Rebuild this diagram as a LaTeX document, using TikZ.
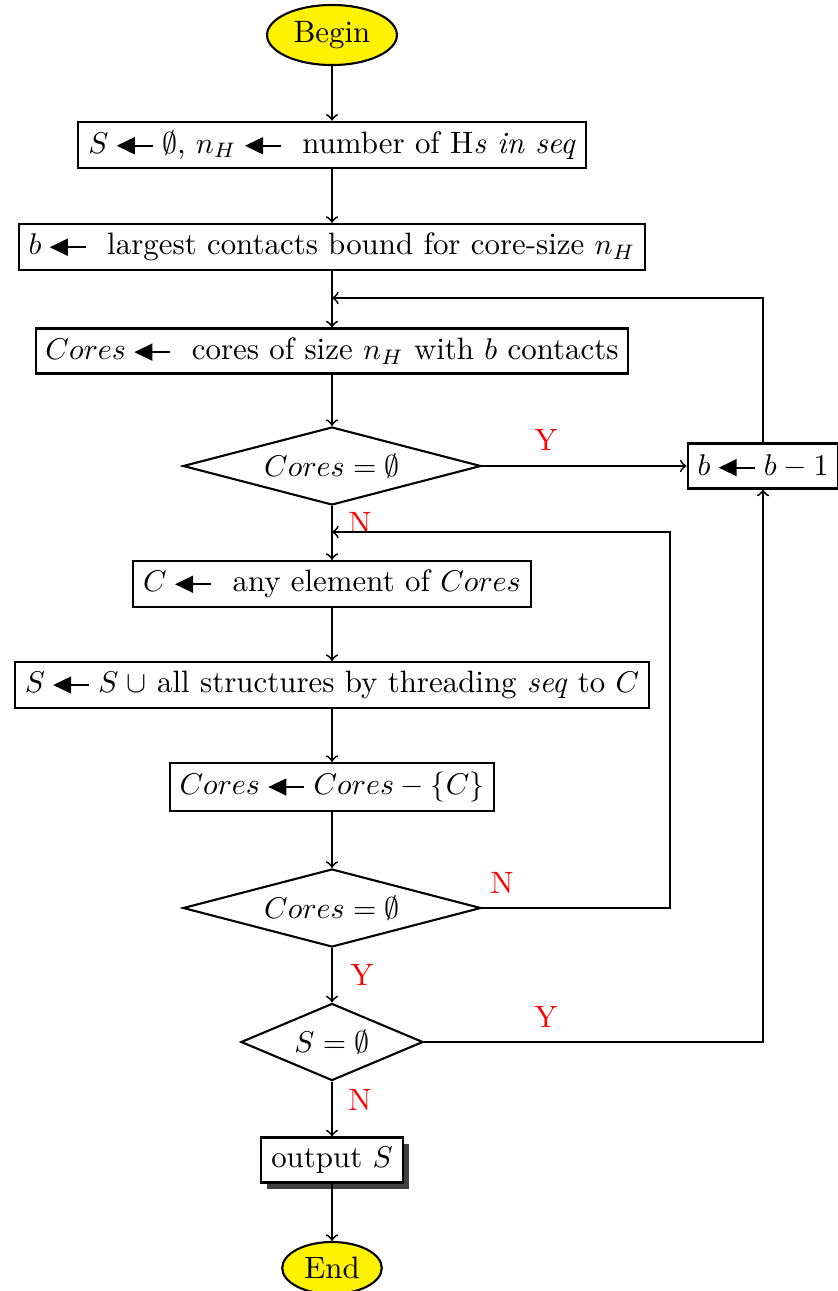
\documentclass[tikz,border=0pt]{standalone}
\usetikzlibrary{shapes.geometric,shadows}

% filled left arrow used for assignment
\newcommand\asgn{\mathrel{\tikz[baseline={(0,-2.5pt)}]{%
  \fill[black] (0,0) -- (6pt,2.9pt) -- (6pt,-2.9pt) -- cycle;
  \draw[black,line width=0.6pt] (5pt,0) -- (12pt,0);}}}

\begin{document}
\begin{tikzpicture}[x=0.3333pt,y=-0.3333pt,
  every node/.style={font=\fontsize{10.3}{12.4}\selectfont},
  term/.style={ellipse,draw=black,fill=yellow,line width=0.7pt,inner sep=2.5pt},
  proc/.style={rectangle,draw=black,line width=0.7pt,minimum height=15pt,inner xsep=3.3pt,inner ysep=3pt},
  test/.style={diamond,draw=black,line width=0.7pt,inner sep=0pt,aspect=3.8,minimum width=99.3pt,minimum height=26pt},
  flow/.style={line width=0.6pt,->},
  lbl/.style={text=red}]
\useasboundingbox (0,0) rectangle (837,1291);

% nodes
\node[term] (begin) at (332,35) {Begin};
\node[proc] (init) at (332,145) {$S \asgn \emptyset$, $n_H \asgn$~ number of H\textit{s in seq}};
\node[proc] (bound) at (332,247) {$b \asgn$~ largest contacts bound for core-size $n_H$};
\node[proc] (cores) at (332,351) {$Cores \asgn$~ cores of size $n_H$ with $b$ contacts};
\node[test] (empty1) at (332,466) {$Cores = \emptyset$};
\node[proc] (dec) at (763,466) {$b \asgn b - 1$};
\node[proc] (pick) at (332,584) {$C \asgn$~ any element of $Cores$};
\node[proc] (thread) at (332,685) {$S \asgn S \mathord{\;\cup}$ all structures by threading \textit{seq} to $C$};
\node[proc] (remove) at (332,787) {$Cores \asgn Cores - \{C\}$};
\node[test] (empty2) at (332,908) {$Cores = \emptyset$};
\node[test,aspect=2.4,minimum width=60.7pt,minimum height=25.7pt] (empty3) at (332,1042) {$S = \emptyset$};
\node[proc,fill=white,drop shadow={shadow xshift=2pt,shadow yshift=-2pt,fill=black!75,opacity=1}] (out) at (332,1160) {output $S$};
\node[term] (end) at (332,1268) {End};

% junction points of the loops
\coordinate (j1) at (332,298);
\coordinate (j2) at (332,532);
\coordinate (c2) at (670,908);

% labels
\node[lbl] (y1) at (546,440) {Y};
\node[lbl] (n1) at (360,523) {N};
\node[lbl] (n2) at (502,883) {N};
\node[lbl] (y2) at (362,975) {Y};
\node[lbl] (y3) at (546,1017) {Y};
\node[lbl] (n3) at (360,1100) {N};

% main flow
\draw[flow] (begin) -- (init);
\draw[flow] (init) -- (bound);
\draw[flow] (bound) -- (cores);
\draw[flow] (cores) -- (empty1);
\draw[flow] (empty1) -- (pick);
\draw[flow] (pick) -- (thread);
\draw[flow] (thread) -- (remove);
\draw[flow] (remove) -- (empty2);
\draw[flow] (empty2) -- (empty3);
\draw[flow] (empty3) -- (out);
\draw[flow] (out) -- (end);

% loops
\draw[flow] (empty1.east) -- (dec.west);
\draw[flow] (dec.north) |- (j1);
\draw[flow] (empty2.east) -- (c2) |- (j2);
\draw[flow] (empty3.east) -| (dec.south);
\end{tikzpicture}
\end{document}
